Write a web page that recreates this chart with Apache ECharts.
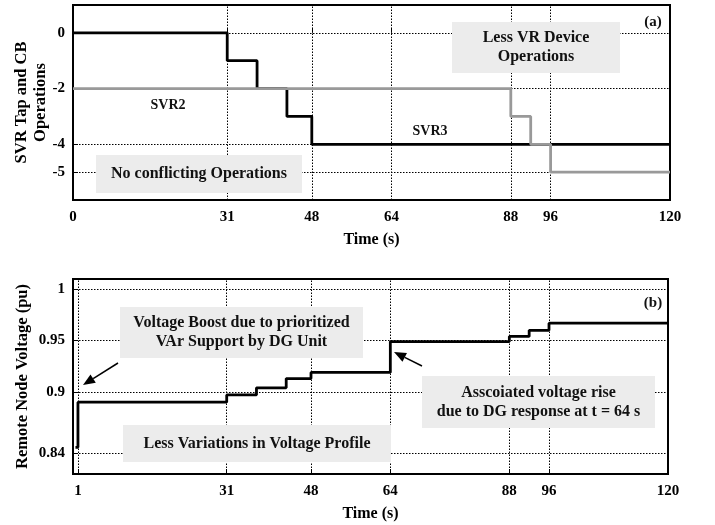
<!DOCTYPE html>
<html>
<head>
<meta charset="utf-8">
<script src="https://cdn.jsdelivr.net/npm/echarts@6/dist/echarts.min.js"></script>
<style>
html, body { margin: 0; padding: 0; background: #fff; }
#main { width: 715px; height: 525px; }
</style>
</head>
<body>
<div id="main"></div>
<script>
// tick positions
var timeTicksA = [0, 31, 48, 64, 88, 96, 120];
var timeTicksB = [1, 31, 48, 64, 88, 96, 120];
var tapTicks = [0, -2, -4, -5];
var voltTicks = [0.84, 0.9, 0.95, 1];

// (a) tap operations
var svr3Time = [0, 31, 37, 43, 48, 120];
var svr3Tap = [0, -1, -2, -3, -4, -4];
var svr2Time = [0, 88, 92, 96, 120];
var svr2Tap = [-2, -3, -4, -5, -5];

// (b) remote node voltage
var voltTime = [0.5, 1, 31, 37, 43, 48, 64, 88, 92, 96, 120];
var voltPu = [0.846, 0.89, 0.897, 0.904, 0.913, 0.919, 0.949, 0.954, 0.96, 0.967, 0.967];

var FONT = 'Liberation Serif';

function zip(xs, ys) {
	var out = [];
	for (var i = 0; i < xs.length; i++) out.push([xs[i], ys[i]]);
	return out;
}

// dotted grid lines at the tick values
function gridLines(xs, ys) {
	var d = [];
	xs.forEach(function(x) { d.push({ xAxis: x }); });
	ys.forEach(function(y) { d.push({ yAxis: y }); });
	return {
		silent: true,
		z: 1,
		symbol: 'none',
		animation: false,
		label: { show: false },
		lineStyle: { color: '#000', type: [1.5, 1.5], width: 1 },
		data: d
	};
}

function xAxisOf(idx, ticks) {
	return {
		type: 'value', gridIndex: idx, min: 0, max: 120,
		name: 'Time (s)', nameLocation: 'middle', nameGap: 32,
		nameTextStyle: { fontFamily: FONT, fontWeight: 'bold', fontSize: 16, color: '#000' },
		axisLine: { show: false },
		axisTick: { inside: true, length: 5, customValues: ticks, lineStyle: { color: '#000' } },
		axisLabel: { customValues: ticks, margin: 10, fontFamily: FONT, fontWeight: 'bold', fontSize: 15, color: '#000' },
		splitLine: { show: false }
	};
}

function yAxisOf(idx, name, min, max, ticks, gap) {
	return {
		type: 'value', gridIndex: idx, min: min, max: max,
		name: name, nameLocation: 'middle', nameGap: gap, nameMoveOverlap: false,
		nameTextStyle: { fontFamily: FONT, fontWeight: 'bold', fontSize: 16.5, color: '#000', lineHeight: 19 },
		axisLine: { show: false },
		axisTick: { inside: true, length: 5, customValues: ticks, lineStyle: { color: '#000' } },
		axisLabel: { customValues: ticks, margin: 8, fontFamily: FONT, fontWeight: 'bold', fontSize: 15, color: '#000' },
		splitLine: { show: false }
	};
}

function box(x, y, w, h, text, size) {
	return {
		type: 'group',
		children: [
			{ type: 'rect', shape: { x: x, y: y, width: w, height: h }, style: { fill: '#ececec' }, z: 10 },
			{ type: 'text', x: x + w / 2, y: y + h / 2, z: 11,
				style: { text: text, fontFamily: FONT, fontWeight: 'bold', fontSize: size, lineHeight: size + 3,
					fill: '#111', align: 'center', verticalAlign: 'middle' } }
		]
	};
}

function label(x, y, text, size) {
	return { type: 'text', x: x, y: y, z: 11,
		style: { text: text, fontFamily: FONT, fontWeight: 'bold', fontSize: size, fill: '#111',
			align: 'center', verticalAlign: 'middle' } };
}

function arrow(x1, y1, x2, y2) {
	var ang = Math.atan2(y2 - y1, x2 - x1);
	var len = 12, half = 5;
	var bx = x2 - len * Math.cos(ang), by = y2 - len * Math.sin(ang);
	var nx = -Math.sin(ang) * half, ny = Math.cos(ang) * half;
	return {
		type: 'group',
		children: [
			{ type: 'line', z: 11, shape: { x1: x1, y1: y1, x2: bx, y2: by }, style: { stroke: '#000', lineWidth: 1.5 } },
			{ type: 'polygon', z: 11, shape: { points: [[x2, y2], [bx + nx, by + ny], [bx - nx, by - ny]] }, style: { fill: '#000' } }
		]
	};
}

var chart = echarts.init(document.getElementById('main'));

var option = {
	backgroundColor: '#fff',
	animation: false,
	grid: [
		{ left: 73, right: 45, top: 5, height: 195, show: true, borderColor: '#000', borderWidth: 2, containLabel: false, outerBoundsMode: 'none' },
		{ left: 73, right: 47, top: 279, height: 195, show: true, borderColor: '#000', borderWidth: 2, containLabel: false, outerBoundsMode: 'none' }
	],
	xAxis: [
		xAxisOf(0, timeTicksA),
		xAxisOf(1, timeTicksB)
	],
	yAxis: [
		yAxisOf(0, 'SVR Tap and CB\nOperations', -6, 1, tapTicks, 23),
		yAxisOf(1, 'Remote Node Voltage (pu)', 0.82, 1.01, voltTicks, 41)
	],
	series: [
		{ type: 'line', xAxisIndex: 0, yAxisIndex: 0, data: [], z: 1,
			markLine: gridLines([31, 48, 64, 88, 96], tapTicks) },
		{ name: 'SVR3', type: 'line', xAxisIndex: 0, yAxisIndex: 0, step: 'end', symbol: 'none', z: 3,
			lineStyle: { color: '#000', width: 2.8 }, data: zip(svr3Time, svr3Tap) },
		{ name: 'SVR2', type: 'line', xAxisIndex: 0, yAxisIndex: 0, step: 'end', symbol: 'none', z: 4,
			lineStyle: { color: '#999', width: 2.8 }, data: zip(svr2Time, svr2Tap) },
		{ type: 'line', xAxisIndex: 1, yAxisIndex: 1, data: [], z: 1,
			markLine: gridLines(timeTicksB.slice(0, 6), voltTicks) },
		{ name: 'Voltage', type: 'line', xAxisIndex: 1, yAxisIndex: 1, step: 'end', symbol: 'none', z: 3,
			lineStyle: { color: '#000', width: 2.8 }, data: zip(voltTime, voltPu) }
	],
	graphic: [
		box(96, 155, 206, 38, 'No conflicting Operations', 16),
		box(452, 22, 168, 51, 'Less VR Device\nOperations', 16),
		label(168, 105, 'SVR2', 14),
		label(430, 131, 'SVR3', 14),
		label(653, 22, '(a)', 15),
		box(120, 307, 243, 51, 'Voltage Boost due to prioritized\nVAr Support by DG Unit', 16),
		box(123, 425, 268, 37, 'Less Variations in Voltage Profile', 16),
		box(422, 376, 233, 52, 'Asscoiated voltage rise\ndue to DG response at t = 64 s', 16),
		label(653, 303, '(b)', 15),
		arrow(118, 363, 83, 385),
		arrow(422, 366, 394, 352)
	]
};

chart.setOption(option);
</script>
</body>
</html>
